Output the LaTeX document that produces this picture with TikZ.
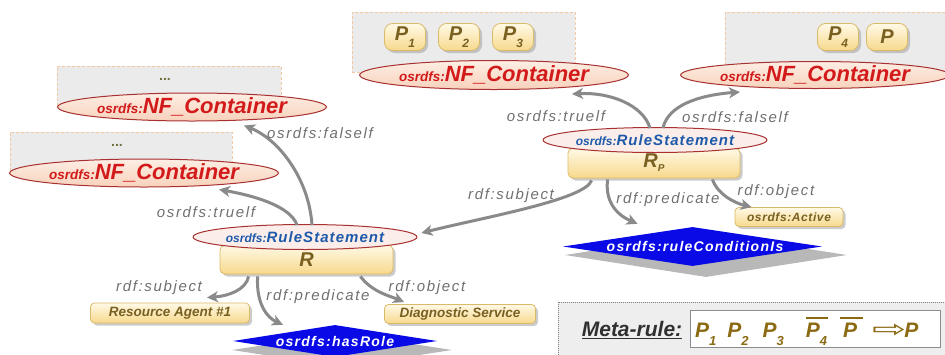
\documentclass[tikz,border=0pt]{standalone}
\usepackage{fontspec}
\usepackage{graphicx}
\setmainfont{Liberation Sans}
\newfontfamily\lblf[LetterSpace=11]{Liberation Sans}
\newfontfamily\rsf[LetterSpace=7]{Liberation Sans}
\newfontfamily\dmf[LetterSpace=9]{Liberation Sans}
\newfontfamily\actf[LetterSpace=5]{Liberation Sans}
\newfontfamily\djv{DejaVu Sans}
\usetikzlibrary{shapes.geometric,shadows,arrows.meta,calc}
\definecolor{contfill}{HTML}{EBEBEB}
\definecolor{contb}{HTML}{F2C8A2}
\definecolor{ellb}{HTML}{A83030}
\definecolor{nftop}{HTML}{FDEEE4}
\definecolor{nfbot}{HTML}{F8D2BC}
\definecolor{nftext}{HTML}{D21A1A}
\definecolor{rsfill}{HTML}{FBEEEA}
\definecolor{rstxt}{HTML}{1E5AAA}
\definecolor{ytop}{HTML}{FFF9E6}
\definecolor{ybot}{HTML}{F7D98C}
\definecolor{yb}{HTML}{D9BA68}
\definecolor{ytext}{HTML}{7A6020}
\definecolor{dblue}{HTML}{0A0AE6}
\definecolor{arrg}{HTML}{8A8A8A}
\definecolor{lblc}{HTML}{707070}
\definecolor{dotc}{HTML}{6E6E40}
\definecolor{metafill}{HTML}{EEEEEE}
\definecolor{metatext}{HTML}{303030}
\definecolor{fcol}{HTML}{8C6A12}
\newcommand\nfcont{{\bfseries\itshape\color{nftext}{\fontsize{13.5}{13.5}\selectfont osrdfs:}{\fontsize{22}{22}\selectfont NF\_Container}}}
\newcommand\rsstmt{{\bfseries\itshape\color{rstxt}{\fontsize{12}{12}\selectfont osrdfs:}{\rsf\fontsize{15}{15}\selectfont RuleStatement}}}
\newcommand\pbx[1]{{\bfseries\itshape\color{ytext}\fontsize{20}{20}\selectfont P\raisebox{-0.35em}{\fontsize{12}{12}\selectfont #1}}}
\newcommand\fp[1]{P\raisebox{-0.35em}{\fontsize{13}{13}\selectfont #1}}
\newcommand\ovl[1]{\setbox0=\hbox{#1}\makebox[0pt][l]{\raisebox{19pt}{\rule{\wd0}{2pt}}}\box0}
\begin{document}
\begin{tikzpicture}[x=1pt,y=-1pt,
 cont/.style={rectangle, draw=contb, fill=contfill, dash pattern=on 3pt off 2pt, line width=0.7pt, inner sep=0},
 nfell/.style={ellipse, draw=ellb, line width=1pt, top color=nftop, bottom color=nfbot, minimum width=241pt, minimum height=28pt, inner sep=0},
 rsell/.style={ellipse, draw=ellb, line width=1pt, fill=rsfill, minimum width=209pt, minimum height=25pt, inner sep=0},
 ybox/.style={rectangle, rounded corners=5pt, draw=yb, line width=0.8pt, top color=ytop, bottom color=ybot, drop shadow={shadow xshift=2.5pt, shadow yshift=-2.5pt, fill=black!40, opacity=0.5}, inner sep=0, text=ytext, font=\bfseries\itshape\fontsize{13.5}{13.5}\selectfont},
 pbox/.style={ybox, rounded corners=8pt, minimum width=41pt, minimum height=27pt},
 dia/.style={diamond, fill=dblue, inner sep=0},
 diash/.style={diamond, fill=black!28, inner sep=0},
 dtext/.style={text=white, font=\dmf\bfseries\itshape\fontsize{14}{14}\selectfont, inner sep=0},
 arr/.style={draw=arrg, line width=3pt, -{Stealth[length=11pt,width=11pt,inset=3pt]}},
 elabel/.style={text=lblc, font=\lblf\itshape\fontsize{15}{15}\selectfont, inner sep=0},
 dots/.style={text=dotc, font=\bfseries\fontsize{14}{14}\selectfont, inner sep=0}
]
\useasboundingbox (0,0) rectangle (945,354);
\clip (0,0) rectangle (945,354);

% containers
\node[cont, minimum width=224pt, minimum height=40pt] (c1) at (169,86) {};
\node[dots] (d1) at (165,79) {...};
\node[cont, minimum width=222pt, minimum height=40pt] (c2) at (121,152) {};
\node[dots] (d2) at (117,145) {...};
\node[cont, minimum width=223pt, minimum height=60pt] (c3) at (463.5,42) {};
\node[cont, minimum width=225pt, minimum height=60pt] (c4) at (837.5,42) {};

\node[pbox] (p1) at (405,37) {\pbx{1}};
\node[pbox] (p2) at (459,37) {\pbx{2}};
\node[pbox] (p3) at (513,37) {\pbx{3}};
\node[pbox] (p4) at (838,37) {\pbx{4}};
\node[pbox] (p5) at (887,37) {{\bfseries\itshape\color{ytext}\fontsize{20}{20}\selectfont P}};

\node[nfell] (nf1) at (192,107) {\nfcont};
\node[nfell] (nf2) at (144,173) {\nfcont};
\node[nfell, minimum width=242pt, minimum height=29pt] (nf3) at (494,75) {\nfcont};
\node[nfell, minimum width=246pt, minimum height=27pt] (nf4) at (815,75) {\nfcont};

% rule statements
\node[ybox, minimum width=172pt, minimum height=30pt] (rpbox) at (654,163) {{\fontsize{20}{20}\selectfont R\raisebox{-0.2em}{\fontsize{10}{10}\selectfont P}}};
\node[rsell] (rs2) at (655,140) {\rsstmt};
\node[ybox, minimum width=173pt, minimum height=29pt] (rbox) at (306.5,259.5) {{\fontsize{20}{20}\selectfont R}};
\node[rsell] (rs1) at (305,237) {\rsstmt};

% value boxes
\node[ybox, rounded corners=4pt, minimum width=159pt, minimum height=20pt] (ra) at (170,313) {Resource Agent \#1};
\node[ybox, rounded corners=4pt, minimum width=151pt, minimum height=19pt] (ds) at (460,314) {Diagnostic Service};
\node[ybox, rounded corners=4pt, minimum width=108pt, minimum height=19pt, font=\actf\bfseries\itshape\fontsize{12}{12}\selectfont] (act) at (789,217) {osrdfs:Active};

% diamonds
\node[diash, minimum width=282pt, minimum height=44pt] (rcsh) at (706,255) {};
\node[dia, minimum width=259pt, minimum height=39pt] (rc) at (692.5,246.5) {};
\node[dtext] (rct) at (695,246) {osrdfs:ruleConditionIs};
\node[diash, minimum width=220pt, minimum height=34pt] (hrsh) at (342,350) {};
\node[dia, minimum width=204pt, minimum height=32pt] (hr) at (335,341) {};
\node[dtext] (hrt) at (335,341) {osrdfs:hasRole};

% arrows
\draw[arr] ($(rs1.north)+(7,1)$) .. controls (309,180) and (280,140) .. ($(nf1.south)+(52,4)$);
\draw[arr] ($(rs1.north)+(-8,1)$) .. controls (290,205) and (250,195) .. ($(nf2.south)+(75,2)$);
\draw[arr] ($(rpbox.south west)+(24,2)$) .. controls (585,200) and (480,218) .. ($(rs1.east)+(4,-4)$);
\draw[arr] ($(rs2.north)+(-5,1)$) .. controls (643,105) and (610,92) .. ($(nf3.south)+(78,4)$);
\draw[arr] ($(rs2.north)+(8,1)$) .. controls (668,105) and (700,95) .. ($(nf4.south)+(-75,3)$);
\draw[arr] ($(rpbox.south west)+(40,1)$) .. controls (605,200) and (615,214) .. ($(rc.north)+(-55,-3)$);
\draw[arr] ($(rpbox.south east)+(-28,1)$) .. controls (718,195) and (735,203) .. ($(act.north west)+(17,0)$);
\draw[arr] ($(rbox.south west)+(29,2)$) .. controls (246,290) and (228,296) .. ($(ra.north)+(37,-5)$);
\draw[arr] ($(rbox.south west)+(38,2)$) .. controls (256,305) and (268,318) .. ($(hr.north)+(-52,0)$);
\draw[arr] ($(rbox.south east)+(-33,2)$) .. controls (372,292) and (390,296) .. ($(ds.north west)+(20,-2)$);

% edge labels
\node[elabel] (fl1) at (320,133) {osrdfs:falself};
\node[elabel] (tl1) at (206,212) {osrdfs:truelf};
\node[elabel] (tl2) at (556,116) {osrdfs:truelf};
\node[elabel] (fl2) at (735,117) {osrdfs:falself};
\node[elabel] (sb2) at (511,196) {rdf:subject};
\node[elabel] (pr2) at (668,200) {rdf:predicate};
\node[elabel] (ob2) at (776,192) {rdf:object};
\node[elabel] (sb1) at (159,288) {rdf:subject};
\node[elabel] (pr1) at (318,297) {rdf:predicate};
\node[elabel] (ob1) at (427,288) {rdf:object};

% meta-rule
\node[draw=black!50, fill=metafill, dash pattern=on 1pt off 1pt, line width=0.8pt, minimum width=392pt, minimum height=58pt, anchor=north west, inner sep=0] (mo) at (558,302) {};
\node[text=metatext, font=\bfseries\itshape\fontsize{21}{21}\selectfont, inner sep=0] (ml) at (632,330) {\underline{Meta-rule:}};
\node[draw=black!45, fill=white, line width=0.8pt, minimum width=250pt, minimum height=37pt, anchor=north west, inner sep=0] (mi) at (690,310) {};
\node[text=fcol, font=\bfseries\itshape\fontsize{21}{21}\selectfont, inner sep=0, anchor=west] (mf) at (695,331) {\fp{1}\hspace{11pt}\fp{2}\hspace{14pt}\fp{3}\hspace{22pt}\ovl{\fp{4}\hspace{1pt}}\hspace{12pt}\ovl{\hspace{3pt}P\hspace{6pt}}\hspace{9pt}{\djv\upshape\mdseries\fontsize{24}{24}\selectfont\scalebox{1.7}[1]{⇨}}\hspace{-2pt}P};
\end{tikzpicture}
\end{document}
